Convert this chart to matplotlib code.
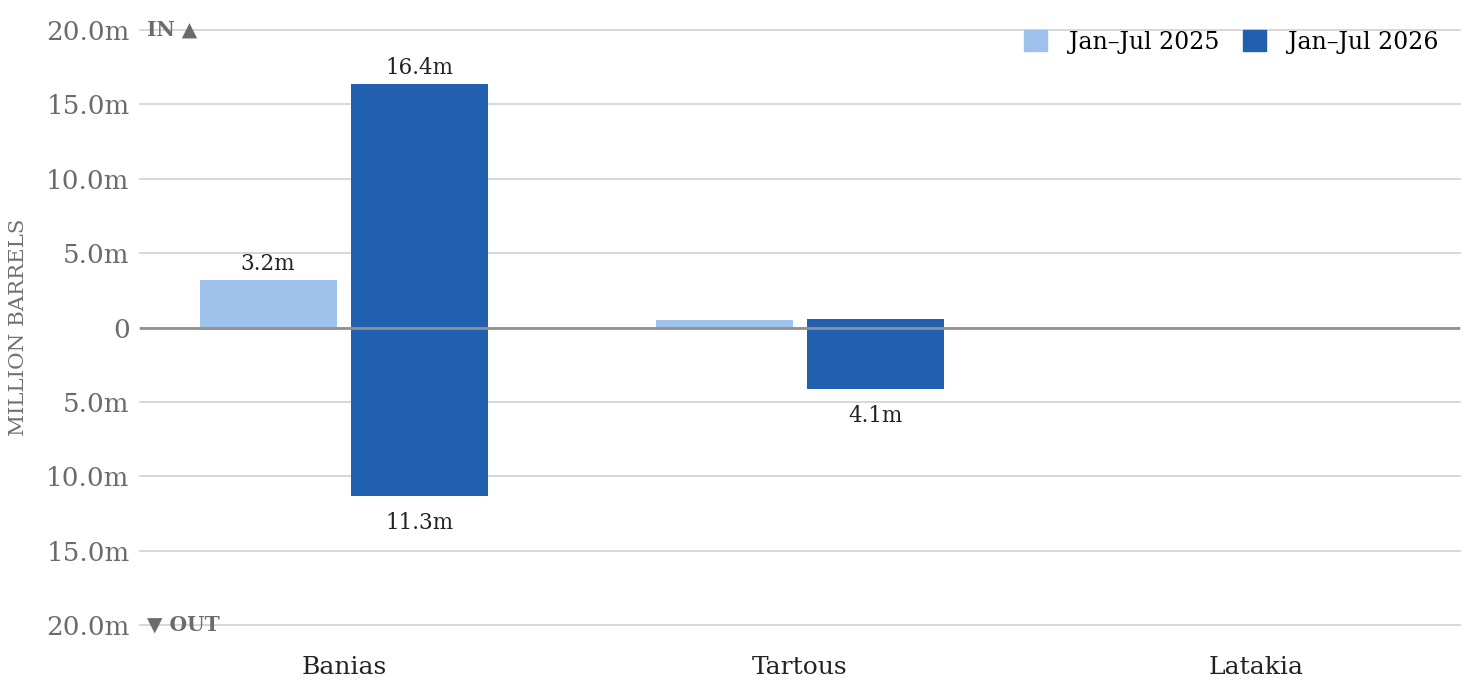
import numpy as np
import matplotlib
matplotlib.use("Agg")
import matplotlib.pyplot as plt
from matplotlib.patches import Patch

plt.rcParams['font.family'] = ['DejaVu Serif']

ports = ['Banias', 'Tartous', 'Latakia']
series = ['Jan\u2013Jul 2025', 'Jan\u2013Jul 2026']
# million barrels, inbound (positive) and outbound (shown below zero)
inflow_2025 = [3.2, 0.5, 0.0]
outflow_2025 = [0.2, 0.0, 0.0]
inflow_2026 = [16.4, 0.6, 0.0]
outflow_2026 = [11.3, 4.1, 0.0]
yticks = [20, 15, 10, 5, 0, -5, -10, -15, -20]

light = '#9fc2ec'
dark = '#2060ae'

fig = plt.figure(figsize=(14.7, 6.93), dpi=100)
ax = fig.add_axes([0.0952, 0.0981, 0.898, 0.8586])

x = np.arange(len(ports))
w = 0.30
off = 0.166

ax.bar(x - off, inflow_2025, w, color=light, zorder=2)
ax.bar(x - off, [-v for v in outflow_2025], w, color=light, zorder=2)
ax.bar(x + off, inflow_2026, w, color=dark, zorder=2)
ax.bar(x + off, [-v for v in outflow_2026], w, color=dark, zorder=2)

# value labels for the bigger bars only
for xs, ins, outs in [(x - off, inflow_2025, outflow_2025), (x + off, inflow_2026, outflow_2026)]:
    for xi, vi, vo in zip(xs, ins, outs):
        if vi >= 1:
            ax.annotate(f'{vi:.1f}m', (xi, vi), xytext=(0, 3.5), textcoords='offset points',
                        ha='center', va='bottom', fontsize=15.5, color='#222222')
        if vo >= 1:
            ax.annotate(f'{vo:.1f}m', (xi, -vo), xytext=(0, -12), textcoords='offset points',
                        ha='center', va='top', fontsize=15.5, color='#222222')

ax.axhline(0, color='#909090', lw=2, zorder=3)
ax.set_ylim(-20, 20)
ax.set_xlim(-0.447, 2.447)
ax.set_yticks(yticks)
ax.set_yticklabels(['0' if t == 0 else f'{abs(t):.1f}m' for t in yticks])
ax.tick_params(axis='y', length=0, labelsize=18.8, labelcolor='#6b6b6b', pad=7.5)
ax.set_xticks(x)
ax.set_xticklabels(ports)
ax.tick_params(axis='x', length=0, labelsize=18, labelcolor='#222222', pad=22)
ax.grid(axis='y', color='#d4d4d4', lw=1.3, zorder=0)
for gl in ax.yaxis.get_gridlines():
    gl.set_clip_on(False)
for s in ax.spines.values():
    s.set_visible(False)

ax.set_ylabel('MILLION BARRELS', fontsize=15.4, color='#707070')
ax.yaxis.set_label_coords(-0.085, 0.5)

ax.text(0.005, 20, 'IN \u25b2', fontsize=14.5, fontweight='bold', color='#6b6b6b',
        ha='left', va='center', transform=ax.get_yaxis_transform())
ax.text(0.005, -20, '\u25bc OUT', fontsize=14.5, fontweight='bold', color='#6b6b6b',
        ha='left', va='center', transform=ax.get_yaxis_transform())

handles = [Patch(color=light), Patch(color=dark)]
ax.legend(handles, series, loc='upper right', bbox_to_anchor=(0.9905, 1.016), ncol=2, frameon=False,
          fontsize=17, handlelength=1.0, handleheight=1.0, columnspacing=1.0, handletextpad=0.9,
          borderaxespad=0.0)

fig.savefig('out.png', dpi=100, facecolor='white')
